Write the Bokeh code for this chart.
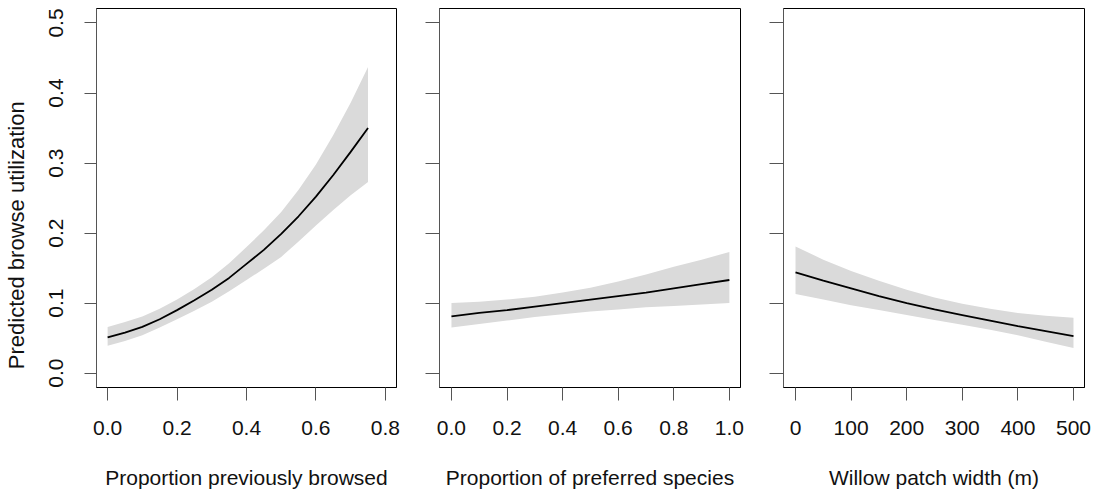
import math
from bokeh.plotting import figure
from bokeh.layouts import row
from bokeh.models import Range1d, FixedTicker, PrintfTickFormatter, CustomJSTickFormatter, Label, ColumnDataSource
from bokeh.embed import file_html
from bokeh.resources import INLINE

# ---- data ----
x_browsed = [0.0, 0.05, 0.1, 0.15, 0.2, 0.25, 0.3, 0.35, 0.4, 0.45, 0.5, 0.55, 0.6, 0.65, 0.7, 0.75]
fit_browsed = [0.051, 0.058, 0.066, 0.077, 0.090, 0.104, 0.119, 0.136, 0.156, 0.176, 0.199, 0.224, 0.252, 0.283, 0.316, 0.350]
lo_browsed = [0.039, 0.046, 0.054, 0.065, 0.077, 0.089, 0.102, 0.117, 0.133, 0.149, 0.166, 0.188, 0.211, 0.233, 0.254, 0.273]
hi_browsed = [0.066, 0.073, 0.081, 0.092, 0.105, 0.120, 0.137, 0.157, 0.180, 0.204, 0.230, 0.262, 0.298, 0.340, 0.386, 0.437]

x_pref = [0.0, 0.1, 0.2, 0.3, 0.4, 0.5, 0.6, 0.7, 0.8, 0.9, 1.0]
fit_pref = [0.081, 0.086, 0.090, 0.095, 0.100, 0.105, 0.110, 0.115, 0.121, 0.127, 0.133]
lo_pref = [0.065, 0.070, 0.075, 0.080, 0.084, 0.088, 0.091, 0.094, 0.096, 0.098, 0.100]
hi_pref = [0.100, 0.102, 0.105, 0.109, 0.115, 0.122, 0.131, 0.141, 0.152, 0.162, 0.173]

x_width = [0, 50, 100, 150, 200, 250, 300, 350, 400, 450, 500]
fit_width = [0.144, 0.132, 0.121, 0.110, 0.100, 0.091, 0.083, 0.075, 0.067, 0.060, 0.053]
lo_width = [0.113, 0.105, 0.097, 0.090, 0.083, 0.076, 0.069, 0.062, 0.054, 0.045, 0.036]
hi_width = [0.181, 0.162, 0.146, 0.132, 0.119, 0.108, 0.099, 0.092, 0.086, 0.082, 0.079]

y_ticks = [0.0, 0.1, 0.2, 0.3, 0.4, 0.5]
x_ticks_browsed = [0.0, 0.2, 0.4, 0.6, 0.8]
x_ticks_pref = [0.0, 0.2, 0.4, 0.6, 0.8, 1.0]
x_ticks_width = [0, 100, 200, 300, 400, 500]

x_titles = ["Proportion previously browsed", "Proportion of preferred species", "Willow patch width (m)"]
y_title = "Predicted browse utilization"

FONT = "Liberation Sans"
BAND = "#dadada"
TXT = "#111111"


def make_panel(xs, fit, lo, hi, xr, xticks, xfmt, xtitle, first, left_border, right_border):
    p = figure(frame_width=300 if first else 301, frame_height=379,
               x_range=Range1d(*xr), y_range=Range1d(-0.0205, 0.5207),
               output_backend="svg", toolbar_location=None,
               min_border_left=left_border, min_border_right=right_border,
               min_border_top=8, min_border_bottom=106)
    p.grid.visible = False
    p.outline_line_color = "black"
    p.outline_line_width = 1
    p.background_fill_color = "white"
    p.border_fill_color = "white"

    src = ColumnDataSource(dict(x=xs, fit=fit, lo=lo, hi=hi))
    p.varea(x="x", y1="lo", y2="hi", source=src, fill_color=BAND, fill_alpha=1.0)
    p.line(x="x", y="fit", source=src, line_color="black", line_width=1.8)

    xa = p.xaxis[0]
    xa.ticker = FixedTicker(ticks=xticks)
    xa.formatter = PrintfTickFormatter(format=xfmt)
    xa.minor_tick_line_color = None
    xa.major_tick_out = 13
    xa.major_tick_in = 0
    xa.major_tick_line_color = "#555555"
    xa.axis_line_color = "black"
    xa.major_label_text_font = FONT
    xa.major_label_text_font_size = "21px"
    xa.major_label_text_color = TXT
    xa.major_label_standoff = 20
    xa.axis_label = xtitle
    xa.axis_label_text_font = FONT
    xa.axis_label_text_font_size = "21px"
    xa.axis_label_text_font_style = "normal"
    xa.axis_label_text_color = TXT
    xa.axis_label_standoff = 28

    ya = p.yaxis[0]
    ya.ticker = FixedTicker(ticks=y_ticks)
    ya.minor_tick_line_color = None
    ya.major_tick_in = 0
    ya.major_tick_line_color = "#555555"
    ya.axis_line_color = "#555555"
    if first:
        ya.major_tick_out = 12
        ya.formatter = PrintfTickFormatter(format="%.1f")
        ya.major_label_orientation = "vertical"
        ya.major_label_text_font = FONT
        ya.major_label_text_font_size = "21px"
        ya.major_label_text_color = TXT
        ya.major_label_standoff = 21
    else:
        ya.major_tick_out = 14
        ya.formatter = CustomJSTickFormatter(code="return ''")
        ya.major_label_text_font_size = "1px"
        ya.major_label_standoff = 0
    return p


# narrow strip that carries the shared y-axis title
p0 = figure(width=30, height=493, x_range=Range1d(0, 30), y_range=Range1d(0, 493),
            output_backend="svg", toolbar_location=None,
            min_border_left=0, min_border_right=0, min_border_top=0, min_border_bottom=0)
p0.axis.visible = False
p0.grid.visible = False
p0.outline_line_color = None
p0.add_layout(Label(x=16, y=198, text=y_title, angle=math.pi / 2,
                    text_align="center", text_baseline="middle",
                    text_font=FONT, text_font_size="22px", text_color=TXT))

p1 = make_panel(x_browsed, fit_browsed, lo_browsed, hi_browsed, (-0.032, 0.832),
                x_ticks_browsed, "%.1f", x_titles[0], True, 66, 10)
p2 = make_panel(x_pref, fit_pref, lo_pref, hi_pref, (-0.043, 1.04),
                x_ticks_pref, "%.1f", x_titles[1], False, 33, 10)
p3 = make_panel(x_width, fit_width, lo_width, hi_width, (-21.6, 519.8),
                x_ticks_width, "%d", x_titles[2], False, 33, 10)

layout = row(p0, p1, p2, p3)
open("out.html", "w").write(file_html(layout, INLINE))
